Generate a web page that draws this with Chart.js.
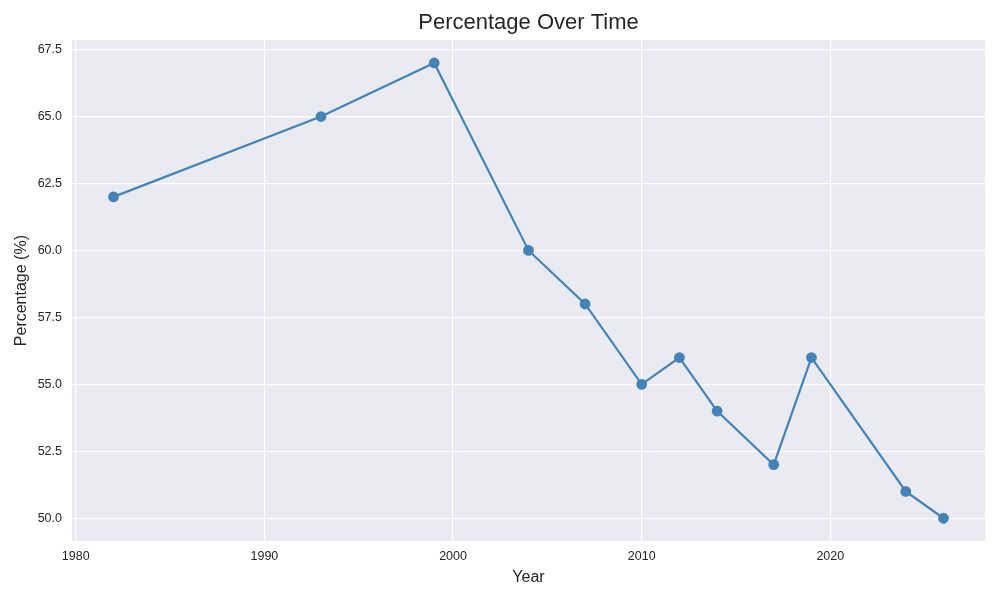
<!DOCTYPE html>
<html>
<head>
<meta charset="utf-8">
<script src="https://cdn.jsdelivr.net/npm/chart.js@4/dist/chart.umd.min.js"></script>
<style>
  html, body { margin: 0; padding: 0; background: #ffffff; }
  #wrap { width: 1000px; height: 600px; position: relative; }
</style>
</head>
<body>
<div id="wrap"><canvas id="chart" width="1000" height="600"></canvas></div>
<script>
const years = [1982, 1993, 1999, 2004, 2007, 2010, 2012, 2014, 2017, 2019, 2024, 2026];
const percentages = [62, 65, 67, 60, 58, 55, 56, 54, 52, 56, 51, 50];
const xTicks = [1980, 1990, 2000, 2010, 2020];
const yTicks = [50.0, 52.5, 55.0, 57.5, 60.0, 62.5, 65.0, 67.5];

const FONT = "'Liberation Sans', Arial, sans-serif";
const TEXT = '#262626';

// fill the plot area like seaborn darkgrid
const plotBg = {
    id: 'plotBg',
    beforeDraw(chart) {
        const { ctx, chartArea: a } = chart;
        ctx.save();
        ctx.fillStyle = '#EAEAF2';
        ctx.fillRect(a.left, a.top, a.right - a.left, a.bottom - a.top);
        ctx.restore();
    }
};

const ctx = document.getElementById('chart').getContext('2d');
new Chart(ctx, {
    type: 'line',
    data: {
        datasets: [{
            label: 'Percentage',
            data: years.map((y, i) => ({ x: y, y: percentages[i] })),
            borderColor: '#4682B4',
            backgroundColor: '#4682B4',
            borderWidth: 2.2,
            pointRadius: 4.3,
            pointHoverRadius: 4.3,
            tension: 0,
            fill: false
        }]
    },
    options: {
        responsive: false,
        animation: false,
        layout: { padding: { left: 12, right: 15, top: 0, bottom: 13 } },
        plugins: {
            legend: { display: false },
            tooltip: { enabled: false },
            title: {
                display: true,
                fullSize: false,   // centre over the plot area, not the canvas
                text: 'Percentage Over Time',
                color: TEXT,
                font: { family: FONT, size: 22, weight: 'normal' },
                padding: { top: 10, bottom: 3.8 }
            }
        },
        scales: {
            x: {
                type: 'linear',
                min: 1979.8,
                max: 2028.2,
                afterBuildTicks: (s) => { s.ticks = xTicks.map(v => ({ value: v })); },
                ticks: {
                    color: TEXT,
                    font: { family: FONT, size: 12.5 },
                    padding: 8,
                    maxRotation: 0,
                    callback: (v) => String(v)
                },
                grid: { color: '#ffffff', lineWidth: 1.2, drawTicks: false },
                border: { display: false },
                title: {
                    display: true,
                    text: 'Year',
                    color: TEXT,
                    font: { family: FONT, size: 16 },
                    padding: { top: 4, bottom: 0 }
                },
                afterFit: (s) => { s.height = 46; }
            },
            y: {
                type: 'linear',
                min: 49.15,
                max: 67.85,
                afterBuildTicks: (s) => { s.ticks = yTicks.map(v => ({ value: v })); },
                ticks: {
                    color: TEXT,
                    font: { family: FONT, size: 12.5 },
                    padding: 10,
                    callback: (v) => Number(v).toFixed(1)
                },
                grid: { color: '#ffffff', lineWidth: 1.2, drawTicks: false },
                border: { display: false },
                title: {
                    display: true,
                    text: 'Percentage (%)',
                    color: TEXT,
                    font: { family: FONT, size: 16 },
                    padding: { top: 0, bottom: 4 }
                },
                afterFit: (s) => { s.width = 60; }
            }
        }
    },
    plugins: [plotBg]
});
</script>
</body>
</html>
